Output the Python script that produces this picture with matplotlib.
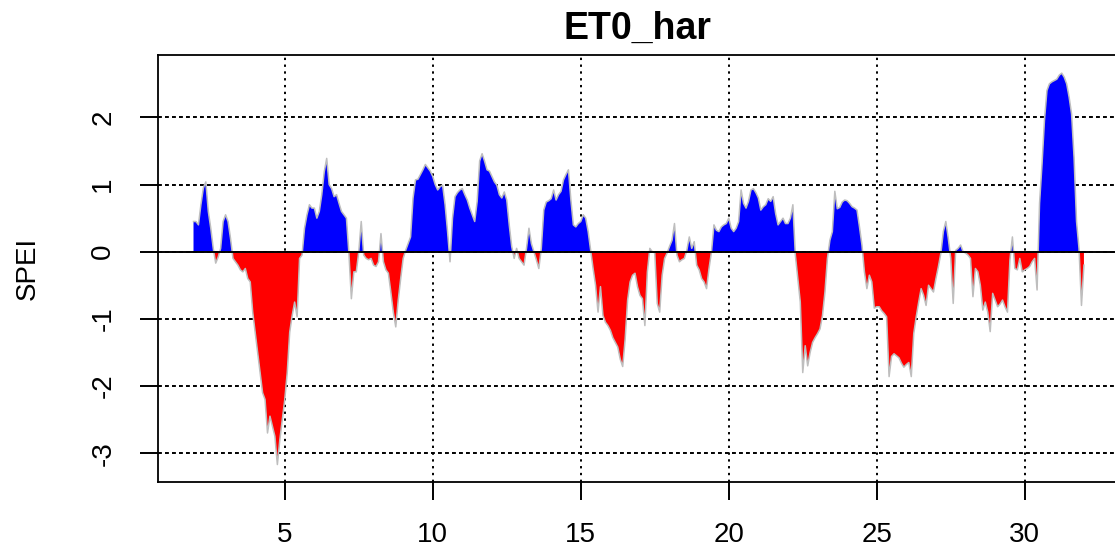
import numpy as np
import matplotlib
matplotlib.use("Agg")
import matplotlib.pyplot as plt

# Monthly SPEI series (12-month scale); first value at time 1 + 11/12
start_time = 1 + 11 / 12
frequency = 12

spei_first = [0.45]
spei_by_year = {
    2: [0.45, 0.4, 0.7, 0.95, 1.04, 0.6, 0.35, 0.05, -0.17, -0.08, 0.05, 0.45],
    3: [0.55, 0.45, 0.2, -0.1, -0.15, -0.2, -0.27, -0.3, -0.25, -0.4, -0.45, -0.9],
    4: [-1.2, -1.5, -1.8, -2.1, -2.2, -2.7, -2.45, -2.6, -2.75, -3.17, -2.8, -2.5],
    5: [-2.2, -1.8, -1.2, -0.95, -0.75, -0.97, -0.1, -0.05, 0.35, 0.55, 0.7, 0.65],
    6: [0.65, 0.5, 0.6, 0.85, 1.19, 1.39, 1.0, 0.94, 0.82, 0.85, 0.72, 0.6],
    7: [0.55, 0.5, -0.02, -0.7, -0.3, -0.3, 0.0, 0.45, -0.05, -0.1, -0.12, -0.1],
    8: [-0.2, -0.22, -0.15, 0.27, -0.15, -0.27, -0.32, -0.6, -0.9, -1.12, -0.72, -0.4],
    9: [-0.1, 0.02, 0.12, 0.22, 0.8, 1.07, 1.08, 1.15, 1.22, 1.3, 1.25, 1.2],
    10: [1.12, 1.0, 0.92, 0.97, 0.99, 0.7, 0.3, -0.15, 0.5, 0.82, 0.88, 0.92],
    11: [0.94, 0.85, 0.77, 0.65, 0.55, 0.45, 0.75, 1.35, 1.46, 1.35, 1.22, 1.2],
    12: [1.12, 1.04, 0.99, 0.85, 0.8, 0.89, 0.77, 0.4, 0.08, -0.1, 0.05, -0.1],
    13: [-0.15, -0.2, 0.05, 0.35, 0.12, 0.0, -0.12, -0.25, 0.05, 0.62, 0.74, 0.76],
    14: [0.79, 0.92, 0.77, 0.85, 0.9, 1.07, 1.15, 1.22, 0.77, 0.4, 0.37, 0.42],
    15: [0.45, 0.55, 0.5, 0.3, 0.02, -0.25, -0.5, -0.9, -0.52, -0.95, -1.05, -1.1],
    16: [-1.17, -1.28, -1.35, -1.42, -1.6, -1.71, -1.3, -0.72, -0.45, -0.35, -0.32, -0.52],
    17: [-0.65, -0.7, -1.1, -0.3, 0.05, 0.0, -0.02, -0.77, -0.9, -0.35, -0.1, -0.02],
    18: [0.08, 0.17, 0.42, -0.05, -0.15, -0.12, -0.1, 0.02, 0.22, 0.05, 0.15, -0.2],
    19: [-0.27, -0.4, -0.45, -0.55, -0.25, 0.0, 0.4, 0.32, 0.3, 0.37, 0.4, 0.42],
    20: [0.5, 0.35, 0.3, 0.35, 0.45, 0.92, 0.72, 0.65, 0.75, 0.92, 0.94, 0.88],
    21: [0.8, 0.62, 0.67, 0.7, 0.79, 0.75, 0.82, 0.57, 0.4, 0.45, 0.5, 0.42],
    22: [0.42, 0.5, 0.7, -0.05, -0.4, -0.75, -1.8, -1.4, -1.7, -1.5, -1.35, -1.28],
    23: [-1.22, -1.15, -0.95, -0.6, -0.1, 0.17, 0.3, 0.9, 0.64, 0.66, 0.74, 0.77],
    24: [0.76, 0.72, 0.67, 0.65, 0.62, 0.37, 0.1, -0.3, -0.55, -0.35, -0.45, -0.84],
    25: [-0.82, -0.82, -0.88, -0.92, -0.97, -1.86, -1.56, -1.52, -1.55, -1.58, -1.66, -1.72],
    26: [-1.68, -1.65, -1.86, -1.22, -0.97, -0.75, -0.55, -0.65, -0.8, -0.5, -0.55, -0.6],
    27: [-0.4, -0.22, -0.02, 0.3, 0.45, 0.2, -0.1, -0.77, 0.02, 0.05, 0.1, 0.0],
    28: [-0.02, -0.05, -0.1, -0.67, -0.25, -0.3, -0.5, -0.87, -0.75, -0.9, -1.19, -0.62],
    29: [-0.72, -0.82, -0.78, -0.72, -0.82, -0.9, -0.12, 0.22, -0.25, -0.27, -0.1, -0.3],
    30: [-0.27, -0.25, -0.22, -0.15, -0.1, -0.57, 0.72, 1.3, 1.96, 2.4, 2.5, 2.53],
    31: [2.55, 2.57, 2.63, 2.66, 2.6, 2.5, 2.3, 2.05, 1.4, 0.45, 0.05, -0.8],
}
spei_last = [-0.2]

title = "ET0_har"
y_label = "SPEI"
x_ticks = [5, 10, 15, 20, 25, 30]
y_ticks = [-3, -2, -1, 0, 1, 2]

values = np.array(spei_first + [v for y in sorted(spei_by_year) for v in spei_by_year[y]] + spei_last)
times = start_time + np.arange(len(values)) / frequency

plt.rcParams["font.family"] = ["Liberation Sans", "DejaVu Sans"]

fig = plt.figure(figsize=(11.15, 5.48), dpi=100)
ax = fig.add_axes([158 / 1115, 66 / 548, 959 / 1115, 427 / 548])

# dotted reference grid
for xv in x_ticks:
    ax.axvline(xv, color="black", lw=1.4, linestyle=(0, (1.2, 2.3)), zorder=1)
for yv in y_ticks:
    ax.axhline(yv, color="black", lw=1.4, linestyle=(0, (2.0, 1.6)), zorder=1)

ax.fill_between(times, values, 0, where=values > 0, interpolate=True,
                color="#0000FF", lw=0, zorder=2)
ax.fill_between(times, values, 0, where=values <= 0, interpolate=True,
                color="#FF0000", lw=0, zorder=2)
ax.plot(times, values, color="#BEBEBE", lw=1.1, zorder=3)
ax.axhline(0, color="black", lw=1.4, zorder=4)

ax.set_xlim(0.717, 33.117)
ax.set_ylim(-3.43, 2.93)
ax.set_xticks(x_ticks)
ax.set_yticks(y_ticks)
ax.set_xticklabels([str(v) for v in x_ticks])
ax.set_yticklabels([str(v) for v in y_ticks], rotation=90, va="center")

for s in ax.spines.values():
    s.set_linewidth(1.3)
ax.tick_params(axis="both", length=13, width=1.4, labelsize=20, color="black")
ax.tick_params(axis="x", pad=16)
ax.tick_params(axis="y", pad=17)

ax.set_title(title, fontsize=27, fontweight="bold", pad=12)
ax.set_ylabel(y_label, fontsize=20, labelpad=36)

fig.savefig("out.png", dpi=100)
